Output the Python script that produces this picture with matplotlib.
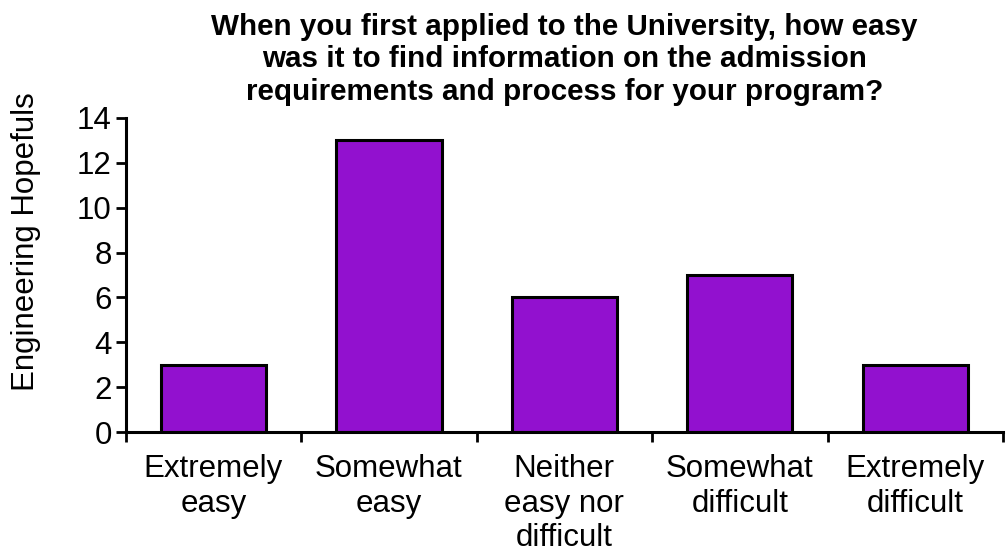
import numpy as np
import matplotlib
matplotlib.use("Agg")
import matplotlib.pyplot as plt

plt.rcParams['font.family'] = ['Liberation Sans', 'DejaVu Sans']

categories = ['Extremely\neasy', 'Somewhat\neasy', 'Neither\neasy nor\ndifficult',
              'Somewhat\ndifficult', 'Extremely\ndifficult']
counts = [3, 13, 6, 7, 3]
title = ('When you first applied to the University, how easy\n'
         'was it to find information on the admission\n'
         'requirements and process for your program?')

fig = plt.figure(figsize=(10.06, 5.56), dpi=100)
ax = fig.add_axes([0.125, 0.223, 0.872, 0.565])

x = np.arange(len(categories))
ax.bar(x, counts, width=0.6, color='#9211CF', edgecolor='black', linewidth=2.2)

ax.set_xlim(-0.5, len(categories) - 0.5)
ax.set_ylim(0, 14)
ax.set_yticks(range(0, 15, 2))
ax.tick_params(axis='y', labelsize=22.5, width=2, length=7, direction='out', pad=3)

# tick marks between categories, labels centered under bars
ax.set_xticks(np.arange(-0.5, len(categories), 1.0))
ax.set_xticklabels([])
ax.tick_params(axis='x', which='major', width=2, length=7, direction='out')
ax.set_xticks(x, minor=True)
ax.set_xticklabels(categories, minor=True, fontsize=22.5, linespacing=1.2)
ax.tick_params(axis='x', which='minor', length=0, pad=16)

for s in ['top', 'right']:
    ax.spines[s].set_visible(False)
for s in ['left', 'bottom']:
    ax.spines[s].set_linewidth(2.2)

ax.set_ylabel('Engineering Hopefuls', fontsize=22.5)
ax.yaxis.set_label_coords(-0.097, 0.605)
ax.set_title(title, fontsize=21.3, fontweight='bold', pad=13, linespacing=1.2)

fig.savefig('out.png', dpi=100)
